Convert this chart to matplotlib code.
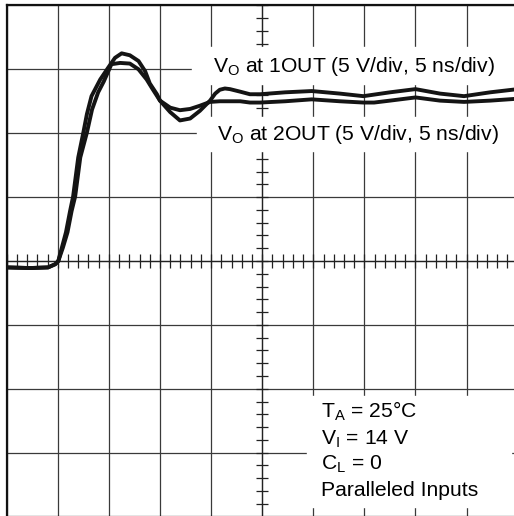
import numpy as np
import matplotlib.pyplot as plt
from matplotlib.patches import Rectangle

plt.rcParams['font.family'] = ['Liberation Sans', 'DejaVu Sans']
plt.rcParams['mathtext.fontset'] = 'custom'
plt.rcParams['mathtext.rm'] = 'Liberation Sans'
plt.rcParams['mathtext.it'] = 'Liberation Sans:italic'

# time in divisions (5 ns/div), voltage in divisions (5 V/div), 0 = centre line
t_1out = [0.00, 0.46, 0.81, 0.95, 1.01, 1.08, 1.16, 1.24, 1.30, 1.40, 1.50, 1.57,
          1.66, 1.83, 1.99, 2.12, 2.25, 2.41, 2.58, 2.71, 2.80, 2.94, 3.00, 3.20,
          3.39, 3.59, 3.78, 3.98, 4.08, 4.17, 4.27, 4.37, 4.57, 4.76, 4.96, 5.45,
          5.97, 6.52, 6.98, 7.50, 8.00, 8.48, 8.95, 9.46, 10.0]
v_1out = [-0.10, -0.11, -0.10, -0.05, 0.00, 0.21, 0.45, 0.78, 1.01, 1.62, 2.01, 2.30,
          2.58, 2.84, 3.03, 3.18, 3.25, 3.22, 3.13, 2.97, 2.78, 2.61, 2.51, 2.33,
          2.20, 2.23, 2.35, 2.51, 2.62, 2.68, 2.70, 2.69, 2.65, 2.61, 2.61, 2.64,
          2.66, 2.62, 2.58, 2.64, 2.69, 2.62, 2.58, 2.64, 2.69]

t_2out = [0.00, 0.46, 0.81, 0.95, 1.01, 1.10, 1.19, 1.27, 1.34, 1.44, 1.57, 1.67,
          1.79, 1.90, 2.05, 2.22, 2.41, 2.58, 2.74, 2.84, 3.00, 3.20, 3.39, 3.59,
          3.78, 3.98, 4.17, 4.57, 4.76, 4.96, 5.45, 5.97, 6.52, 6.98, 7.19, 7.50,
          8.00, 8.48, 8.95, 9.46, 10.0]
v_2out = [-0.10, -0.11, -0.10, -0.05, 0.00, 0.21, 0.45, 0.78, 1.01, 1.62, 2.01, 2.37,
          2.64, 2.81, 3.08, 3.10, 3.09, 3.00, 2.84, 2.71, 2.51, 2.40, 2.36, 2.38,
          2.43, 2.49, 2.50, 2.50, 2.48, 2.48, 2.50, 2.53, 2.50, 2.48, 2.48, 2.51,
          2.56, 2.51, 2.49, 2.51, 2.54]

label_1out = r'V$_\mathrm{O}$ at 1OUT (5 V/div, 5 ns/div)'
label_2out = r'V$_\mathrm{O}$ at 2OUT (5 V/div, 5 ns/div)'
conditions = [r'T$_\mathrm{A}$ = 25°C', r'V$_\mathrm{I}$ = 14 V', r'C$_\mathrm{L}$ = 0',
              'Paralleled Inputs']

fig = plt.figure(figsize=(5.14, 5.16), dpi=100)
ax = fig.add_axes([0.013, -0.0012, 0.9942, 0.9907])
ax.set_xlim(0, 10)
ax.set_ylim(-4, 4)
ax.set_xticks(range(11))
ax.set_yticks(range(-4, 5))
ax.tick_params(length=0, labelbottom=False, labelleft=False)
ax.grid(True, color='#3a3a3a', lw=0.9)
ax.set_axisbelow(True)
for s in ax.spines.values():
    s.set_linewidth(1.6)
    s.set_color('#111111')

# centre cross with small division marks
ax.axhline(0, color='#222222', lw=0.9, zorder=0.6)
ax.axvline(5, color='#222222', lw=0.9, zorder=0.6)
xs = np.arange(0, 10.01, 0.2)
ax.plot(xs, np.zeros_like(xs), ls='none', marker='|', ms=9.5, mew=0.9,
        color='#222222', zorder=0.6)
ys = np.arange(-4, 4.01, 0.2)
ax.plot(np.full_like(ys, 5), ys, ls='none', marker='_', ms=8.5, mew=0.9,
        color='#222222', zorder=0.6)

# white label backgrounds
ax.add_patch(Rectangle((3.63, 2.77), 6.5, 0.58, color='white', zorder=1))
ax.add_patch(Rectangle((3.72, 1.72), 6.5, 0.53, color='white', zorder=1))
ax.add_patch(Rectangle((5.88, -3.85), 3.99, 1.73, color='white', zorder=1))

ax.plot(t_1out, v_1out, color='#141414', lw=2.8, solid_joinstyle='round',
        solid_capstyle='round', zorder=3)
ax.plot(t_2out, v_2out, color='#141414', lw=2.8, solid_joinstyle='round',
        solid_capstyle='round', zorder=3)

ax.text(4.04, 2.96, label_1out, fontsize=15.2, va='baseline', ha='left', zorder=4)
ax.text(4.11, 1.90, label_2out, fontsize=15.2, va='baseline', ha='left', zorder=4)
for yy, txt in zip([-2.45, -2.87, -3.27, -3.68], conditions):
    ax.text(6.16, yy, txt, fontsize=15.2, va='baseline', ha='left', zorder=4)

fig.savefig('out.png', dpi=100)
